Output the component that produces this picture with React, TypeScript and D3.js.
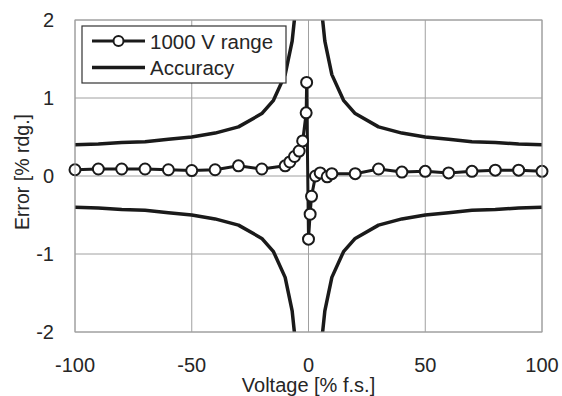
import React, { useEffect, useRef } from 'react';
import * as d3 from 'd3';

// 1000 V range measured error
const measX = [-100, -90, -80, -70, -60, -50, -40, -30, -20, -10, -8, -6, -4, -2.5, -1, -0.8, 0, 0.7, 1.3, 3, 5, 8, 10, 20, 30, 40, 50, 60, 70, 80, 90, 100];
const measY = [0.08, 0.09, 0.09, 0.09, 0.08, 0.07, 0.08, 0.13, 0.09, 0.13, 0.18, 0.25, 0.32, 0.45, 0.81, 1.2, -0.81, -0.49, -0.26, 0.0, 0.04, -0.01, 0.03, 0.03, 0.09, 0.05, 0.06, 0.04, 0.06, 0.075, 0.075, 0.06];

// accuracy limit (upper), each side
const accX = [-100, -90, -80, -70, -60, -50, -40, -30, -20, -15, -10, -7, -5];
const accY = [0.4, 0.41, 0.43, 0.44, 0.47, 0.5, 0.55, 0.63, 0.8, 0.97, 1.3, 1.73, 2.3];
const accXR = [5, 7, 10, 15, 20, 30, 40, 50, 60, 70, 80, 90, 100];
const accYR = [2.3, 1.73, 1.3, 0.97, 0.8, 0.63, 0.55, 0.5, 0.47, 0.44, 0.43, 0.41, 0.4];

const xTicks = [-100, -50, 0, 50, 100];
const yTicks = [-2, -1, 0, 1, 2];
const legendLabels = ['1000 V range', 'Accuracy'];

const W = 562;
const H = 396;
const FONT = 'Liberation Sans, Arial, sans-serif';
const TXT = '#262626';

const App = () => {
  const ref = useRef<SVGSVGElement>(null);

  useEffect(() => {
    const svg = d3.select(ref.current);
    svg.selectAll('*').remove();

    const x = d3.scaleLinear().domain([-100, 100]).range([75, 542]);
    const y = d3.scaleLinear().domain([-2, 2]).range([332, 20]);

    svg.append('defs').append('clipPath').attr('id', 'plotclip')
      .append('rect')
      .attr('x', x(-100)).attr('y', y(2))
      .attr('width', x(100) - x(-100)).attr('height', y(-2) - y(2));

    // grid
    const grid = svg.append('g').attr('stroke', '#a0a0a0').attr('stroke-width', 1);
    xTicks.forEach((t) => {
      grid.append('line').attr('x1', x(t)).attr('x2', x(t)).attr('y1', y(2)).attr('y2', y(-2));
    });
    yTicks.forEach((t) => {
      grid.append('line').attr('x1', x(-100)).attr('x2', x(100)).attr('y1', y(t)).attr('y2', y(t));
    });

    // tick labels
    svg.append('g').selectAll('text').data(xTicks).enter().append('text')
      .attr('x', (d) => x(d)).attr('y', 372)
      .attr('text-anchor', 'middle')
      .attr('font-family', FONT).attr('font-size', 20).attr('fill', TXT)
      .text((d) => `${d}`);
    svg.append('g').selectAll('text').data(yTicks).enter().append('text')
      .attr('x', 54).attr('y', (d) => y(d) + 7)
      .attr('text-anchor', 'end')
      .attr('font-family', FONT).attr('font-size', 20).attr('fill', TXT)
      .text((d) => `${d}`);

    // axis titles
    svg.append('text')
      .attr('x', x(0)).attr('y', 392)
      .attr('text-anchor', 'middle')
      .attr('font-family', FONT).attr('font-size', 20).attr('fill', TXT)
      .text('Voltage [% f.s.]');
    svg.append('text')
      .attr('transform', `translate(29,${y(0) - 4}) rotate(-90)`)
      .attr('text-anchor', 'middle')
      .attr('font-family', FONT).attr('font-size', 19.5).attr('fill', TXT)
      .text('Error [% rdg.]');

    const plot = svg.append('g').attr('clip-path', 'url(#plotclip)');
    const line = d3.line<[number, number]>().x((d) => x(d[0])).y((d) => y(d[1]));

    // accuracy curves
    const accL: [number, number][] = accX.map((v, i) => [v, accY[i]]);
    const accR: [number, number][] = accXR.map((v, i) => [v, accYR[i]]);
    [accL, accR].forEach((pts) => {
      plot.append('path').attr('d', line(pts)).attr('fill', 'none')
        .attr('stroke', '#1a1a1a').attr('stroke-width', 3.5).attr('stroke-linejoin', 'round');
      plot.append('path').attr('d', line(pts.map((p) => [p[0], -p[1]] as [number, number])))
        .attr('fill', 'none')
        .attr('stroke', '#1a1a1a').attr('stroke-width', 3.5).attr('stroke-linejoin', 'round');
    });

    // measured data
    const meas: [number, number][] = measX.map((v, i) => [v, measY[i]]);
    svg.append('path').attr('d', line(meas)).attr('fill', 'none')
      .attr('stroke', '#1a1a1a').attr('stroke-width', 3);
    svg.append('g').selectAll('circle').data(meas).enter().append('circle')
      .attr('cx', (d) => x(d[0])).attr('cy', (d) => y(d[1])).attr('r', 5.5)
      .attr('fill', '#fff').attr('stroke', '#1a1a1a').attr('stroke-width', 2);

    // frame
    svg.append('rect')
      .attr('x', x(-100)).attr('y', y(2))
      .attr('width', x(100) - x(-100)).attr('height', y(-2) - y(2))
      .attr('fill', 'none').attr('stroke', '#a0a0a0').attr('stroke-width', 1);

    // legend
    const lg = svg.append('g');
    lg.append('rect').attr('x', 82).attr('y', 26).attr('width', 204).attr('height', 57)
      .attr('fill', '#fff').attr('stroke', '#333').attr('stroke-width', 1.2);
    legendLabels.forEach((lab, i) => {
      const ly = 41 + i * 26.5;
      lg.append('line').attr('x1', 92).attr('x2', 145).attr('y1', ly).attr('y2', ly)
        .attr('stroke', '#1a1a1a').attr('stroke-width', i === 0 ? 3 : 3.5);
      if (i === 0) {
        lg.append('circle').attr('cx', 118.5).attr('cy', ly).attr('r', 5)
          .attr('fill', '#fff').attr('stroke', '#1a1a1a').attr('stroke-width', 2);
      }
      lg.append('text').attr('x', 150).attr('y', ly + 7.5)
        .attr('font-family', FONT).attr('font-size', 20.5).attr('fill', TXT)
        .text(lab);
    });
  }, []);

  return (
    <svg ref={ref} width={W} height={H} style={{ position: 'absolute', left: 0, top: 0 }} />
  );
};

export default App;
